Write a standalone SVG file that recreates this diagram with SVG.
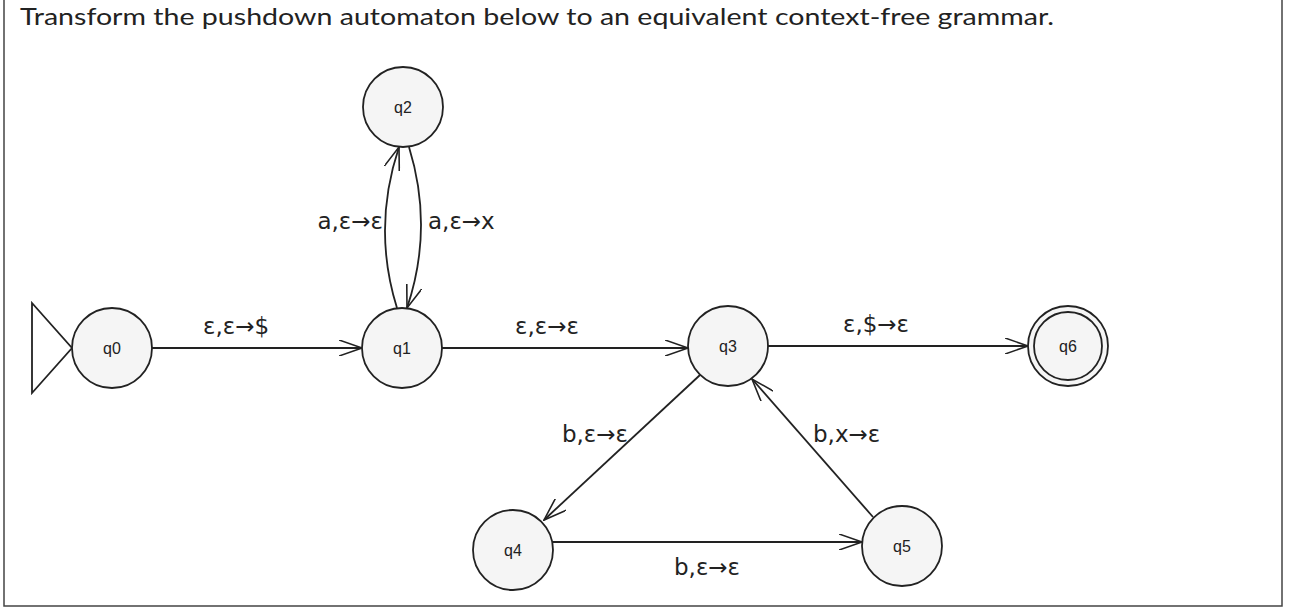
<svg xmlns="http://www.w3.org/2000/svg" width="1290" height="610" viewBox="0 0 1290 610">
<defs>
<marker id="arr" viewBox="0 0 24 16" refX="23" refY="8" markerWidth="24" markerHeight="16" markerUnits="userSpaceOnUse" orient="auto">
<path d="M0,0 L23,8 L0,16" fill="none" stroke="#222" stroke-width="1.6"/>
</marker>
<style>
.n{fill:#f5f5f5;stroke:#222;stroke-width:1.8}
.nl{font-family:"Liberation Sans",Arial,sans-serif;font-size:16px;fill:#222;text-anchor:middle;dominant-baseline:central}
.e{fill:none;stroke:#222;stroke-width:1.8;marker-end:url(#arr)}
.l{font-family:"DejaVu Sans","Liberation Sans",sans-serif;font-size:23px;fill:#222}
</style>
</defs>
<rect x="0" y="0" width="1290" height="610" fill="#fff"/>
<path d="M4,-2 V606 H1282 V-2" fill="none" stroke="#444" stroke-width="1.5"/>
<text x="20" y="25" font-family="Lato,Liberation Sans,sans-serif" font-size="23" fill="#222" textLength="1034" lengthAdjust="spacingAndGlyphs">Transform the pushdown automaton below to an equivalent context-free grammar.</text>
<g id="connectors">
<path class="e" d="M152,348 H362"/>
<path class="e" d="M442,348 H688"/>
<path class="e" d="M768,346 H1028"/>
<path class="e" d="M397,308 Q372,228 399,147"/>
<path class="e" d="M409,147 Q434,228 407,308"/>
<path class="e" d="M700,375 L544,520"/>
<path class="e" d="M553,542 H862"/>
<path class="e" d="M873,517 L752,379"/>
<polygon points="32,303 72,348 32,393" fill="#fff" stroke="#222" stroke-width="1.8"/>
<text class="l" x="236" y="334" text-anchor="middle">ε,ε→$</text>
<text class="l" x="547" y="334" text-anchor="middle">ε,ε→ε</text>
<text class="l" x="876" y="332" text-anchor="middle">ε,$→ε</text>
<text class="l" x="383" y="229" text-anchor="end">a,ε→ε</text>
<text class="l" x="428" y="229">a,ε→x</text>
<text class="l" x="628" y="442" text-anchor="end">b,ε→ε</text>
<text class="l" x="813" y="442">b,x→ε</text>
<text class="l" x="707" y="575" text-anchor="middle">b,ε→ε</text>
</g>
<g id="q0"><circle class="n" cx="112" cy="348" r="40"/><text class="nl" x="112" y="348">q0</text></g>
<g id="q1"><circle class="n" cx="402" cy="348" r="40"/><text class="nl" x="402" y="348">q1</text></g>
<g id="q2"><circle class="n" cx="403" cy="107" r="40"/><text class="nl" x="403" y="107">q2</text></g>
<g id="q3"><circle class="n" cx="728" cy="346" r="40"/><text class="nl" x="728" y="346">q3</text></g>
<g id="q4"><circle class="n" cx="513" cy="550" r="40"/><text class="nl" x="513" y="550">q4</text></g>
<g id="q5"><circle class="n" cx="902" cy="546" r="40"/><text class="nl" x="902" y="546">q5</text></g>
<g id="q6"><circle class="n" cx="1068" cy="346" r="40"/><circle class="n" cx="1068" cy="346" r="34"/><text class="nl" x="1068" y="346">q6</text></g>
</svg>
